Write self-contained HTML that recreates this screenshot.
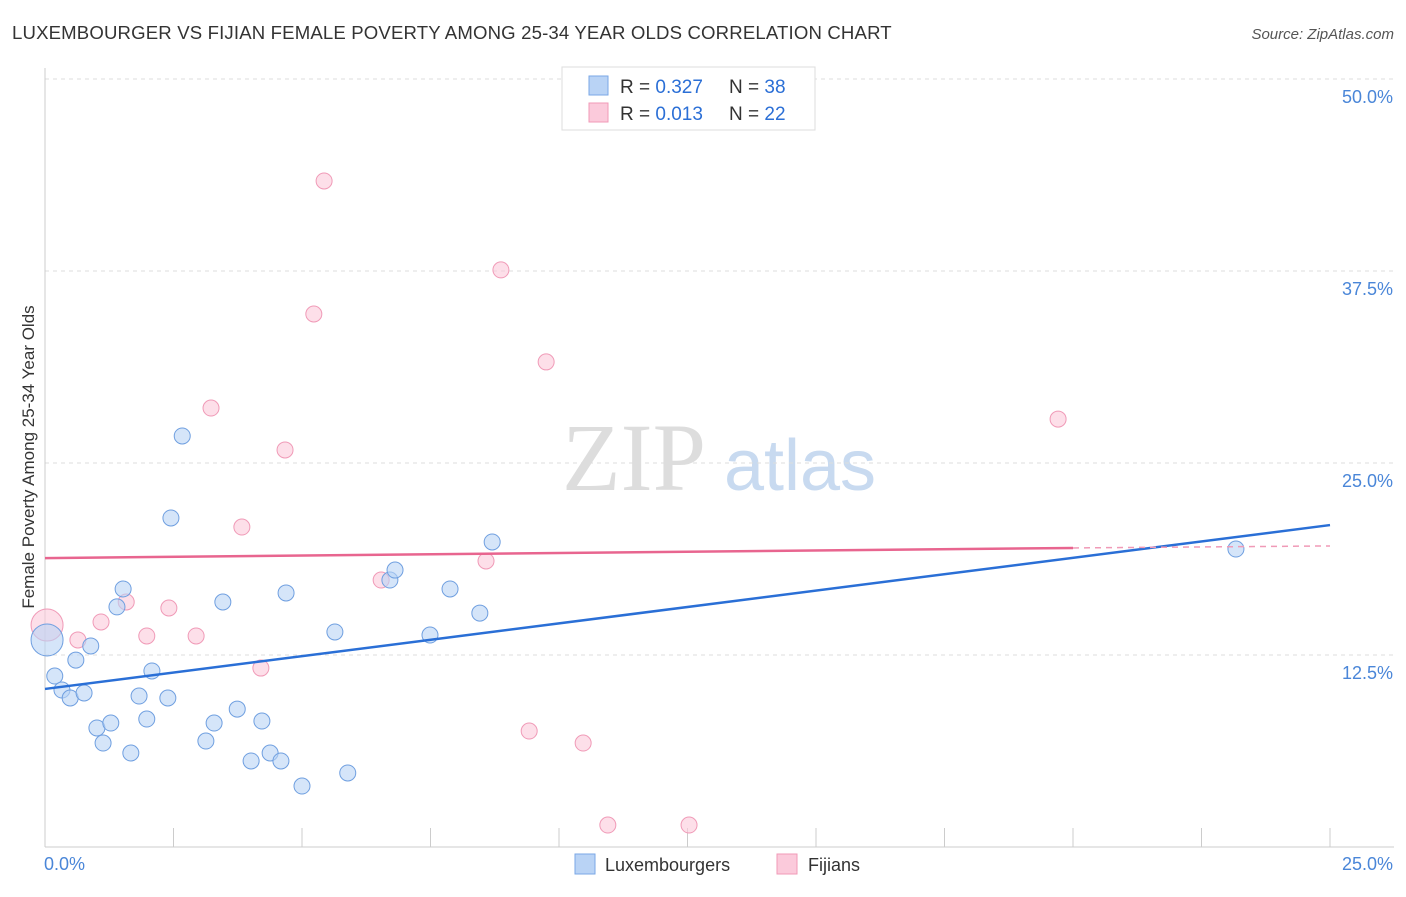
<!DOCTYPE html>
<html><head><meta charset="utf-8"><style>
body{margin:0;background:#fff;font-family:"Liberation Sans",sans-serif}
</style></head><body>
<svg id="c" width="1406" height="892" xmlns="http://www.w3.org/2000/svg" style="font-family:'Liberation Sans',sans-serif">
<text x="12" y="39" font-size="18.6" letter-spacing="0.15" fill="#333">LUXEMBOURGER VS FIJIAN FEMALE POVERTY AMONG 25-34 YEAR OLDS CORRELATION CHART</text>
<text x="1394" y="39" font-size="15" fill="#555" font-style="italic" text-anchor="end">Source: ZipAtlas.com</text>
<g>
<text x="634" y="490" font-size="96" fill="#ddd" text-anchor="middle" font-family="Liberation Serif,serif">ZIP</text>
<text x="800" y="490" font-size="72" fill="#c8daf0" text-anchor="middle">atlas</text>
</g>
<g id="grid"></g><g id="axes"></g><g id="marks"></g>
<text transform="translate(34,457) rotate(-90)" font-size="17" fill="#333" text-anchor="middle">Female Poverty Among 25-34 Year Olds</text>
<g>
<rect x="562" y="67" width="253" height="63" fill="#fff" stroke="#ddd"/>
<rect x="589" y="76" width="19" height="19" fill="#b9d3f5" stroke="#7aa7e6"/>
<rect x="589" y="103" width="19" height="19" fill="#fbcadb" stroke="#f09ab7"/>
<text x="620" y="93" font-size="19" fill="#333">R = <tspan fill="#2b6fd6">0.327</tspan></text>
<text x="729" y="93" font-size="19" fill="#333">N = <tspan fill="#2b6fd6">38</tspan></text>
<text x="620" y="120" font-size="19" fill="#333">R = <tspan fill="#2b6fd6">0.013</tspan></text>
<text x="729" y="120" font-size="19" fill="#333">N = <tspan fill="#2b6fd6">22</tspan></text>
</g>
<g>
<rect x="575" y="854" width="20" height="20" fill="#b9d3f5" stroke="#7aa7e6"/>
<text x="605" y="871" font-size="18" fill="#333">Luxembourgers</text>
<rect x="777" y="854" width="20" height="20" fill="#fbcadb" stroke="#f09ab7"/>
<text x="808" y="871" font-size="18" fill="#333">Fijians</text>
</g>
</svg>
<script>
const yTicks=[12.5,25,37.5,50];
const yTickLabels=["12.5%","25.0%","37.5%","50.0%"];
const xTickLabels=["0.0%","25.0%"];
const blueX=[0.04,0.19,0.33,0.49,0.60,0.76,0.89,1.01,1.13,1.28,1.40,1.52,1.67,1.83,1.98,2.08,2.39,2.45,2.67,3.13,3.29,3.46,3.74,4.01,4.22,4.38,4.59,4.69,5.00,5.64,5.89,6.71,6.81,7.49,7.88,8.46,8.70,23.17];
const blueY=[13.48,11.13,10.22,9.70,12.17,10.03,13.09,7.75,6.77,8.07,15.63,16.80,6.12,9.83,8.33,11.46,9.70,21.42,26.76,6.90,8.07,15.95,8.98,5.60,8.20,6.12,5.60,16.54,3.97,14.00,4.82,17.38,18.03,13.80,16.80,15.23,19.86,19.40];
const pinkX=[0.04,0.64,1.09,1.58,1.98,2.41,2.94,3.23,3.83,4.20,4.67,5.23,5.43,6.54,8.58,8.87,9.42,9.75,10.47,10.95,12.53,19.71];
const pinkY=[14.45,13.48,14.65,15.95,13.74,15.56,13.74,28.58,20.83,11.65,25.85,34.70,43.36,17.38,18.62,37.57,7.55,31.58,6.77,1.43,1.43,27.86];
const blueTrend=[10.29,20.96];
const pinkTrend=[18.81,19.47,19.60];
const X=v=>45+v*51.4, Y=v=>847-v*15.36;
const NS="http://www.w3.org/2000/svg";
function mk(p,t,a){const e=document.createElementNS(NS,t);for(const k in a)e.setAttribute(k,a[k]);p.appendChild(e);return e;}
const grid=document.getElementById('grid'),axes=document.getElementById('axes'),marks=document.getElementById('marks');
yTicks.forEach((t,i)=>{
 const l=mk(grid,'line',{x1:45,x2:1394,y1:Y(t),y2:Y(t),stroke:'#ddd','stroke-dasharray':'4,4'});
 
 
 const tx=mk(axes,'text',{x:1393,y:Y(t)+24,'font-size':18,fill:'#4a86d8','text-anchor':'end'});tx.textContent=yTickLabels[i];
 
 
});
const ya=mk(axes,'line',{x1:45,x2:45,y1:68,y2:847,stroke:'#ccc'});


const xa=mk(axes,'line',{x1:45,x2:1394,y1:847,y2:847,stroke:'#ccc'});


for(let i=0;i<=10;i++){const t=mk(axes,'line',{x1:X(i*2.5),x2:X(i*2.5),y1:828,y2:847,stroke:'#ccc'});
 
 }
[[0,'start',44],[25,'end',1393]].forEach((d,i)=>{const t=mk(axes,'text',{x:d[2],y:870,'font-size':18,fill:'#4a86d8','text-anchor':d[1]});t.textContent=xTickLabels[i];
 
 });
function pts(xs,ys,fill,stroke,name){xs.forEach((x,i)=>{const r=i==0?16:8;
 const c=mk(marks,'circle',{cx:X(x),cy:Y(ys[i]),r:r,fill:fill,stroke:stroke,'stroke-width':1,'fill-opacity':0.6});
 
 });}
pts(pinkX,pinkY,'#fbcadb','#f09ab7','fijian-point');
pts(blueX,blueY,'#b9d3f5','#6f9fe0','luxembourger-point');
const bl=mk(marks,'line',{x1:X(0),y1:Y(blueTrend[0]),x2:X(25),y2:Y(blueTrend[1]),stroke:'#2a6fd6','stroke-width':2.5});


const pl=mk(marks,'line',{x1:X(0),y1:Y(pinkTrend[0]),x2:X(20),y2:Y(pinkTrend[1]),stroke:'#e8658f','stroke-width':2.5});


const pd=mk(marks,'line',{x1:X(20),y1:Y(pinkTrend[1]),x2:X(25),y2:Y(pinkTrend[2]),stroke:'#f09ab7','stroke-width':1.5,'stroke-dasharray':'6,5'});


</script>
</body></html>
